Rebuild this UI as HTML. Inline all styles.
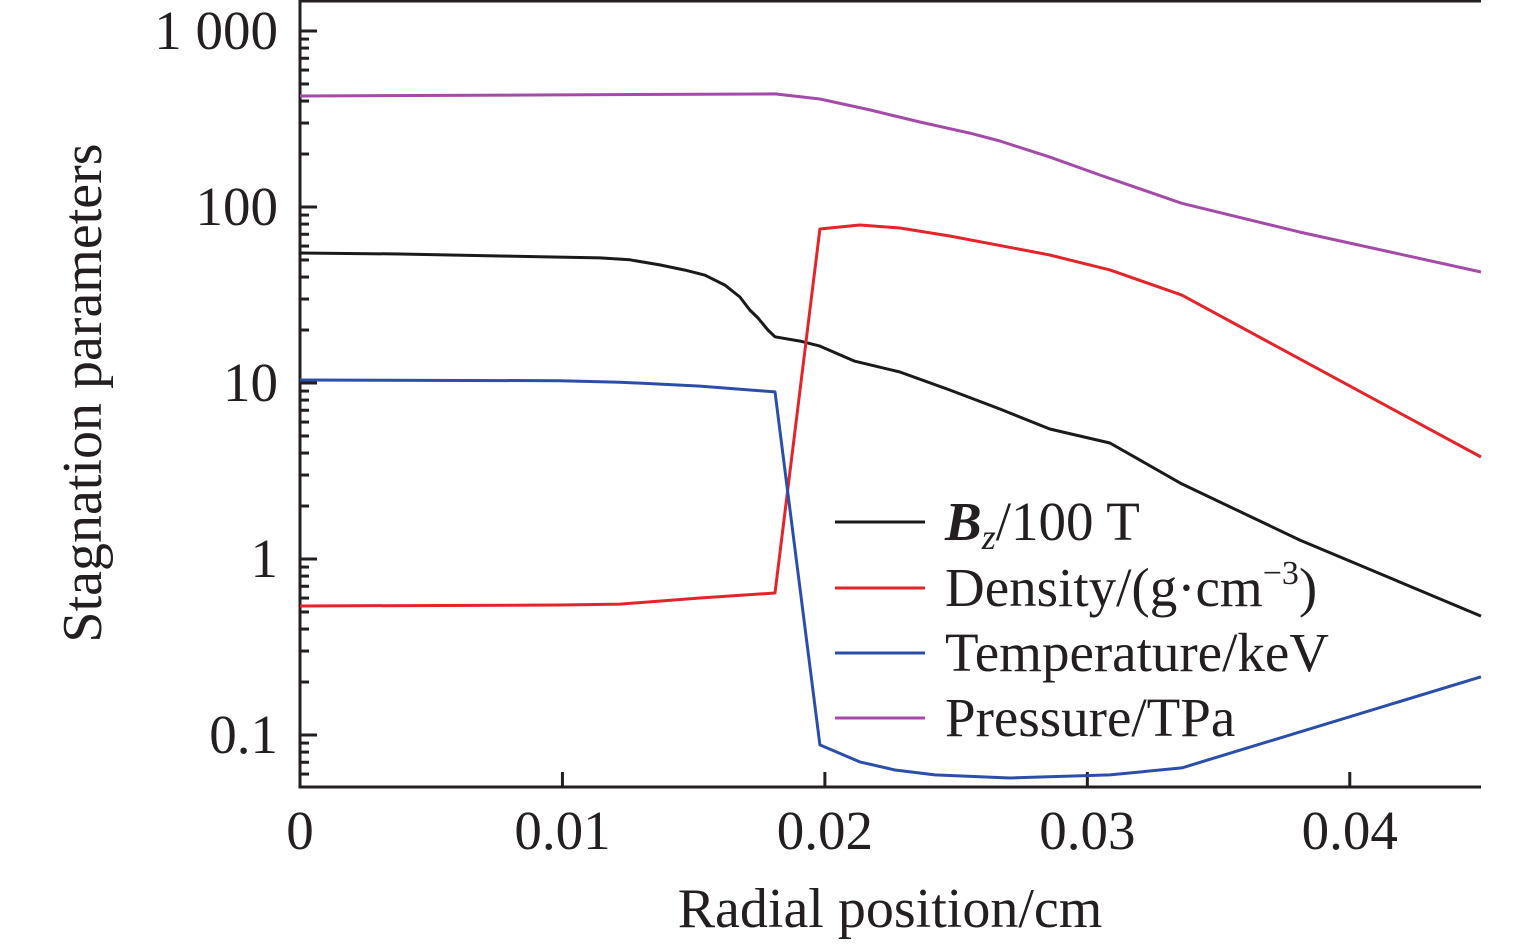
<!DOCTYPE html>
<html><head><meta charset="utf-8"><style>
html,body{margin:0;padding:0;background:#fff;}
svg{display:block;font-family:"Liberation Serif",serif;}
</style></head><body>
<svg id="chart" width="1535" height="945" viewBox="0 0 1535 945" xmlns="http://www.w3.org/2000/svg"></svg>
<script>
const xTicks=[0,0.01,0.02,0.03,0.04];
const xTickLabels=["0","0.01","0.02","0.03","0.04"];
const yTicks=[0.1,1,10,100,1000];
const yTickLabels=["0.1","1","10","100","1 000"];
const bzX=[0,0.00381,0.00762,0.0099,0.01143,0.01257,0.01371,0.01467,0.01543,0.01619,0.01676,0.01714,0.01745,0.01783,0.0181,0.01905,0.01981,0.02114,0.02286,0.02476,0.02667,0.02857,0.03086,0.0336,0.0381,0.045];
const bzY=[54.8,54.1,52.7,51.9,51.4,50.1,46.9,43.8,41.0,36.0,30.8,26.0,23.4,20.0,18.3,17.3,16.2,13.3,11.55,9.12,7.12,5.48,4.56,2.67,1.28,0.474];
const denX=[0,0.0099,0.01219,0.01524,0.0181,0.01981,0.02133,0.02286,0.02476,0.02857,0.03086,0.0336,0.045];
const denY=[0.541,0.548,0.554,0.600,0.641,75,79,76,68.4,53.4,43.9,31.6,3.8];
const tempX=[0,0.0099,0.01219,0.01524,0.0181,0.01981,0.02133,0.02267,0.02419,0.02705,0.03086,0.0336,0.045];
const tempY=[10.4,10.3,10.1,9.6,8.9,0.0878,0.0703,0.0633,0.0593,0.057,0.0593,0.065,0.214];
const presX=[0,0.0181,0.01981,0.02171,0.02362,0.02552,0.02667,0.02857,0.03048,0.0336,0.0381,0.045];
const presY=[427,439,411,356,304,263,237,192,152,105,72,42.7];
const legendLabels=["Bz","Density","Temperature","Pressure"];
const NS="http://www.w3.org/2000/svg";
const svg=document.getElementById('chart');
const X0=300,XW=1181,XMAX=0.045;
const sx=v=>X0+v/XMAX*XW;
const sy=v=>559-176*Math.log10(v);
function mk(tag,attrs,parent){const e=document.createElementNS(NS,tag);for(const k in attrs)e.setAttribute(k,attrs[k]);(parent||svg).appendChild(e);return e;}
let a=mk('line',{x1:X0,y1:787,x2:1481,y2:787,stroke:'#231f20','stroke-width':3});

a=mk('line',{x1:X0,y1:0,x2:X0,y2:788.5,stroke:'#231f20','stroke-width':3});

a=mk('line',{x1:X0,y1:1,x2:1481,y2:1,stroke:'#231f20','stroke-width':3});

xTicks.forEach((t,i)=>{
 const tk=mk('line',{x1:sx(t),y1:787,x2:sx(t),y2:772,stroke:'#231f20','stroke-width':3});
 
 const tl=mk('text',{x:sx(t),y:849,'font-size':55,'text-anchor':'middle',fill:'#231f20'});
 tl.textContent=xTickLabels[i];
 
});
yTicks.forEach((t,i)=>{
 const tk=mk('line',{x1:X0,y1:sy(t),x2:X0+17,y2:sy(t),stroke:'#231f20','stroke-width':3});
 
 const tl=mk('text',{x:278,y:sy(t)+18,'font-size':55,'text-anchor':'end',fill:'#231f20'});
 tl.textContent=yTickLabels[i];
 
});
for(let d=-2;d<=3;d++){for(let m=2;m<=9;m++){const v=m*Math.pow(10,d);const y=sy(v);if(y<2||y>786)continue;
 const tk=mk('line',{x1:X0,y1:y,x2:X0+9,y2:y,stroke:'#231f20','stroke-width':3});
 }}
const series=[[bzX,bzY,'#1a1a1a','bz-line'],[denX,denY,'#e4242b','density-line'],[tempX,tempY,'#2b4fa8','temperature-line'],[presX,presY,'#a44aa8','pressure-line']];
series.forEach(s=>{
 const pts=s[0].map((x,i)=>sx(x).toFixed(1)+','+sy(s[1][i]).toFixed(1)).join(' ');
 const p=mk('polyline',{points:pts,fill:'none',stroke:s[2],'stroke-width':3,'stroke-linejoin':'round'});
 
});
const lg=mk('g',{});

const ly=[522,588,653,718];
series.forEach((s,i)=>{
 const l=mk('line',{x1:835,y1:ly[i],x2:925,y2:ly[i],stroke:s[2],'stroke-width':3},lg);
 
});
const t0=mk('text',{x:945,y:ly[0]+18,'font-size':55,fill:'#231f20'},lg);
t0.innerHTML='<tspan font-weight="bold" font-style="italic">B</tspan><tspan font-style="italic" font-size="36" dy="9">z</tspan><tspan dy="-9">/100 T</tspan>';

const t1=mk('text',{x:945,y:ly[1]+18,'font-size':55,fill:'#231f20'},lg);
t1.innerHTML='Density/(g·cm<tspan font-size="34" dy="-22">−3</tspan><tspan dy="22">)</tspan>';

const t2=mk('text',{x:945,y:ly[2]+18,'font-size':55,fill:'#231f20'},lg);
t2.textContent='Temperature/keV';

const t3=mk('text',{x:945,y:ly[3]+18,'font-size':55,fill:'#231f20'},lg);
t3.textContent='Pressure/TPa';

const xt=mk('text',{x:890,y:927,'font-size':56,'text-anchor':'middle',fill:'#231f20'});
xt.textContent='Radial position/cm';

const yt=mk('text',{x:0,y:0,'font-size':56,'text-anchor':'middle',fill:'#231f20',transform:'translate(101,393) rotate(-90)'});
yt.textContent='Stagnation parameters';

</script>
</body></html>
